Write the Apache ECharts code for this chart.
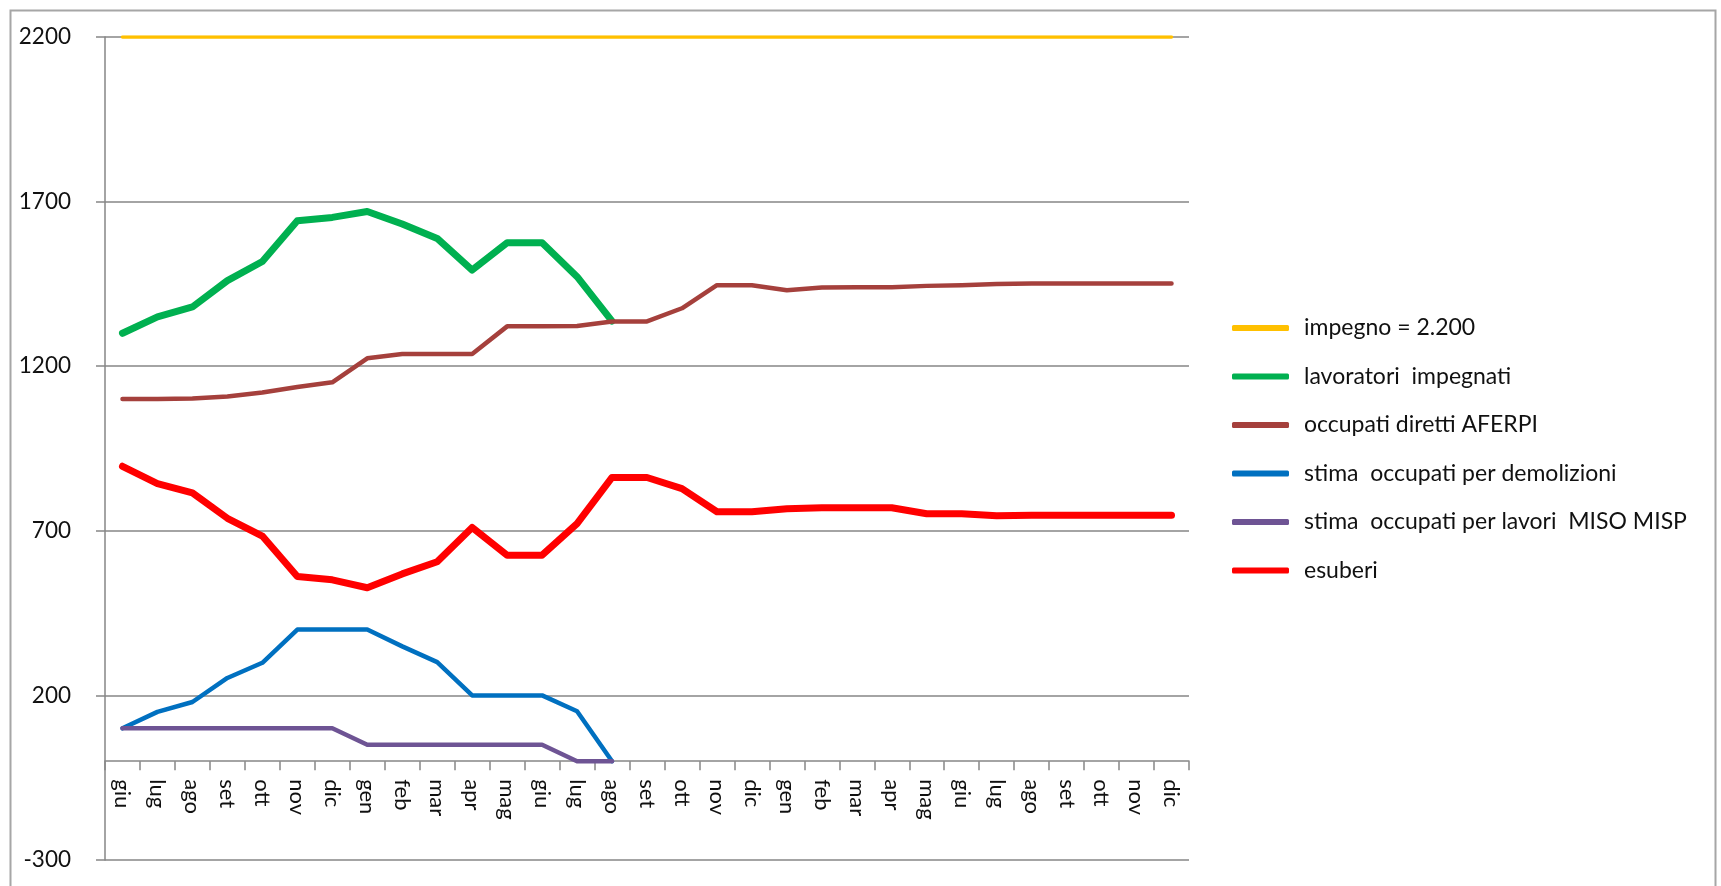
<!DOCTYPE html>
<html>
<head>
<meta charset="utf-8">
<script src="https://cdn.jsdelivr.net/npm/echarts@6/dist/echarts.min.js"></script>
<style>
html,body{margin:0;padding:0;background:#fff;}
#c{width:1721px;height:886px;}
</style>
</head>
<body>
<div id="c"></div>
<script>
const categories = ['giu','lug','ago','set','ott','nov','dic','gen','feb','mar','apr','mag','giu','lug','ago','set','ott','nov','dic','gen','feb','mar','apr','mag','giu','lug','ago','set','ott','nov','dic'];
const yTicks = [-300, 200, 700, 1200, 1700, 2200];

const impegno = [2200,2200,2200,2200,2200,2200,2200,2200,2200,2200,2200,2200,2200,2200,2200,2200,2200,2200,2200,2200,2200,2200,2200,2200,2200,2200,2200,2200,2200,2200,2200];
const lavoratoriImpegnati = [1300,1350,1380,1460,1518,1642,1652,1670,1632,1588,1492,1575,1575,1472,1337,null,null,null,null,null,null,null,null,null,null,null,null,null,null,null,null];
const occupatiDiretti = [1100,1100,1102,1108,1120,1137,1151,1224,1237,1237,1237,1321,1321,1322,1336,1336,1376,1446,1446,1431,1439,1440,1440,1444,1446,1450,1451,1451,1451,1451,1451];
const demolizioni = [100,150,180,253,299,400,400,400,349,301,200,200,200,152,0,null,null,null,null,null,null,null,null,null,null,null,null,null,null,null,null];
const misoMisp = [100,100,100,100,100,100,100,50,50,50,50,50,50,0,0,null,null,null,null,null,null,null,null,null,null,null,null,null,null,null,null];
const esuberi = [896,843,815,738,684,561,551,527,569,606,710,626,626,722,862,862,828,758,758,767,770,770,770,752,752,746,747,747,747,747,747];

const seriesNames = ['impegno = 2.200','lavoratori  impegnati','occupati diretti AFERPI','stima  occupati per demolizioni','stima  occupati per lavori  MISO MISP','esuberi'];
const seriesData = [impegno, lavoratoriImpegnati, occupatiDiretti, demolizioni, misoMisp, esuberi];
const colors = ['#FFC000','#00B050','#A5403C','#0070C0','#6E5494','#FF0000'];
const widths = [3.5, 7, 4.5, 4.5, 4.5, 7];

const FONT = 'Lato, "Open Sans", sans-serif';
const GRID_TOP = 37, GRID_BOTTOM = 26, H = 886;
const yMin = -300, yMax = 2200;
const zeroOffset = -((0 - yMin) / (yMax - yMin)) * (H - GRID_TOP - GRID_BOTTOM);

const chart = echarts.init(document.getElementById('c'), null, {renderer:'canvas'});
chart.setOption({
  animation: false,
  backgroundColor: '#fff',
  graphic: [{
    type: 'rect', left: 8, top: 8, z: -10,
    shape: {x: 0, y: 0, width: 1705, height: 890},
    style: {fill: 'none', stroke: '#A6A6A6', lineWidth: 2}
  }],
  grid: {left: 105, right: 532, top: GRID_TOP, bottom: GRID_BOTTOM, containLabel: false, outerBoundsMode: 'none'},
  legend: {
    orient: 'vertical',
    left: 1227,
    top: 311,
    itemWidth: 57,
    itemHeight: 6,
    itemGap: 24.5,
    icon: 'roundRect',
    data: seriesNames,
    textStyle: {fontFamily: FONT, fontSize: 23, color: '#111', lineHeight: 24, padding: [0,0,0,10]}
  },
  xAxis: {
    type: 'category',
    data: categories,
    boundaryGap: true,
    position: 'bottom',
    offset: zeroOffset,
    axisLine: {onZero: false, lineStyle: {color: '#868686', width: 1.5}},
    axisTick: {show: true, length: 9, inside: false, lineStyle: {color: '#868686', width: 1.5}},
    axisLabel: {rotate: -90, margin: 18, fontFamily: FONT, fontSize: 22, color: '#111', interval: 0},
    splitLine: {show: false}
  },
  yAxis: {
    type: 'value',
    min: yMin, max: yMax, interval: 500,
    axisLine: {show: true, onZero: false, lineStyle: {color: '#868686', width: 1.5}},
    axisTick: {show: true, length: 9, lineStyle: {color: '#868686', width: 1.5}},
    axisLabel: {margin: 34, fontFamily: FONT, fontSize: 22.5, color: '#111',
      formatter: v => yTicks.includes(v) ? String(v) : ''},
    splitLine: {show: true, lineStyle: {color: '#868686', width: 1.5}}
  },
  series: seriesNames.map((n, i) => ({
    name: n,
    type: 'line',
    data: seriesData[i],
    showSymbol: false,
    symbol: 'none',
    connectNulls: false,
    color: colors[i],
    lineStyle: {color: colors[i], width: widths[i], cap: 'round', join: 'round'},
    itemStyle: {color: colors[i]},
    z: 2 + i
  }))
});
</script>
</body>
</html>
